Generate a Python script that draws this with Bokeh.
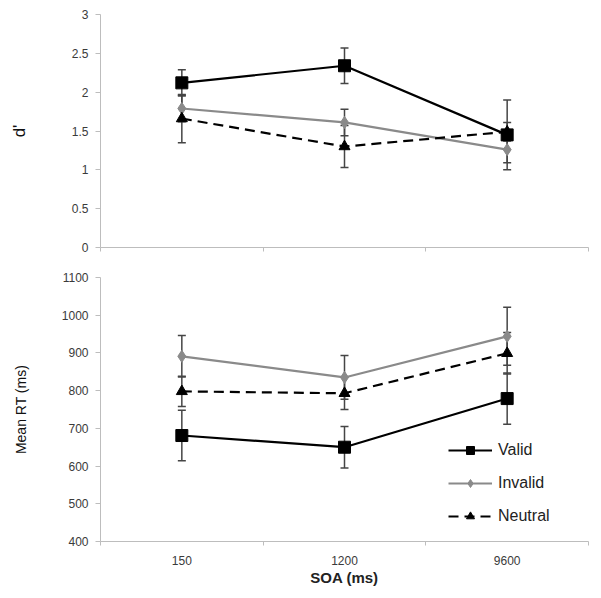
from bokeh.plotting import figure
from bokeh.layouts import column
from bokeh.models import (ColumnDataSource, Whisker, TeeHead, FixedTicker,
                          Legend, LegendItem, Range1d)
from bokeh.embed import file_html
from bokeh.resources import INLINE

# ---- data ----
soa = ["150", "1200", "9600"]
dprime_valid = [2.12, 2.34, 1.45]
dprime_valid_err = [0.17, 0.23, 0.45]
dprime_invalid = [1.79, 1.61, 1.26]
dprime_invalid_err = [0.17, 0.17, 0.17]
dprime_neutral = [1.66, 1.30, 1.49]
dprime_neutral_err = [0.31, 0.27, 0.12]

rt_valid = [681, 650, 779]
rt_valid_err = [67, 55, 68]
rt_invalid = [891, 835, 944]
rt_invalid_err = [55, 58, 77]
rt_neutral = [798, 793, 899]
rt_neutral_err = [40, 43, 55]

d_ticks = [0, 0.5, 1, 1.5, 2, 2.5, 3]
rt_ticks = [400, 500, 600, 700, 800, 900, 1000, 1100]

xpos = [i + 1 for i in range(len(soa))]
FONT = "Liberation Sans"
AXIS_COL = "#bdbdbd"
TXT_COL = "#3a3a3a"
GRAY = "#8a8a8a"
ERR_COL = "#454545"

series_style = [
    # name, color, dash, marker, size
    ("Valid", "black", "solid", "square", 12),
    ("Invalid", GRAY, "solid", "diamond", 12),
    ("Neutral", "black", "10 6", "triangle", 11),
]


def make_fig(height, ymin, ymax, yticks, ylabel, label_standoff, border_top,
             border_bottom, show_x_labels):
    p = figure(width=592, height=height, output_backend="svg",
               toolbar_location=None, x_range=Range1d(0.5, 3.5),
               y_range=Range1d(ymin, ymax),
               min_border_left=100, min_border_right=4,
               min_border_top=border_top, min_border_bottom=border_bottom)
    p.outline_line_color = None
    p.xgrid.grid_line_color = None
    p.ygrid.grid_line_color = None
    # y axis
    ya = p.yaxis[0]
    ya.ticker = FixedTicker(ticks=yticks)
    ya.axis_line_color = AXIS_COL
    ya.major_tick_line_color = AXIS_COL
    ya.minor_tick_line_color = None
    ya.major_tick_out = 5
    ya.major_tick_in = 0
    ya.major_label_standoff = 7
    ya.major_label_text_font = FONT
    ya.major_label_text_font_size = "12px"
    ya.major_label_text_color = TXT_COL
    ya.axis_label = ylabel
    ya.axis_label_text_font = FONT
    ya.axis_label_text_font_style = "normal"
    ya.axis_label_text_color = "#111111"
    ya.axis_label_standoff = label_standoff
    # x axis
    xa = p.xaxis[0]
    major = xpos if show_x_labels else []
    xa.ticker = FixedTicker(ticks=major, minor_ticks=[0.5, 1.5, 2.5, 3.5])
    if show_x_labels:
        xa.major_label_overrides = {x: s for x, s in zip(xpos, soa)}
    xa.axis_line_color = AXIS_COL
    xa.major_tick_line_color = None
    xa.major_tick_out = 0
    xa.major_tick_in = 0
    xa.minor_tick_line_color = AXIS_COL
    xa.minor_tick_out = 4
    xa.minor_tick_in = 0
    xa.major_label_text_font = FONT
    xa.major_label_text_font_size = "12px"
    xa.major_label_text_color = TXT_COL
    xa.major_label_standoff = 10
    return p


def add_series(p, means, errs, style, legend_items=None):
    name, color, dash, marker, size = style
    lower = [m - e for m, e in zip(means, errs)]
    upper = [m + e for m, e in zip(means, errs)]
    src = ColumnDataSource(dict(x=xpos, y=means, lower=lower, upper=upper))
    w = Whisker(base="x", upper="upper", lower="lower", source=src,
                dimension="height", line_color=ERR_COL, line_width=1.5,
                upper_head=TeeHead(size=8, line_color=ERR_COL, line_width=1.5),
                lower_head=TeeHead(size=8, line_color=ERR_COL, line_width=1.5),
                level="underlay")
    p.add_layout(w)
    lr = p.line("x", "y", source=src, line_color=color, line_width=2.2,
                line_dash=dash)
    sr = p.scatter("x", "y", source=src, marker=marker, size=size,
                   fill_color=color, line_color=color)
    if legend_items is not None:
        legend_items.append(LegendItem(label=name, renderers=[lr, sr]))


# top panel: d'
p1 = make_fig(267, 0, 3, d_ticks, "d'", 40, 14, 20, False)
p1.yaxis[0].axis_label_text_font_size = "17px"
for means, errs, st in zip([dprime_valid, dprime_invalid, dprime_neutral],
                           [dprime_valid_err, dprime_invalid_err, dprime_neutral_err],
                           series_style):
    add_series(p1, means, errs, st)

# bottom panel: RT
p2 = make_fig(324, 400, 1100, rt_ticks, "Mean RT (ms)", 30, 10, 50, True)
p2.yaxis[0].axis_label_text_font_size = "14px"
xa2 = p2.xaxis[0]
xa2.axis_label = "SOA (ms)"
xa2.axis_label_text_font = FONT
xa2.axis_label_text_font_size = "15px"
xa2.axis_label_text_font_style = "bold"
xa2.axis_label_text_color = "#222222"
xa2.axis_label_standoff = 1

items = []
for means, errs, st in zip([rt_valid, rt_invalid, rt_neutral],
                           [rt_valid_err, rt_invalid_err, rt_neutral_err],
                           series_style):
    add_series(p2, means, errs, st, items)

legend = Legend(items=items, location=(348, 15), orientation="vertical",
                glyph_width=44, glyph_height=20, label_height=20,
                spacing=13, padding=5, margin=0,
                border_line_color=None, background_fill_alpha=0,
                label_text_font=FONT, label_text_font_size="16px",
                label_text_color="#222222", label_standoff=6)
p2.add_layout(legend, "center")

page = column(p1, p2)
open("out.html", "w").write(file_html(page, INLINE))
